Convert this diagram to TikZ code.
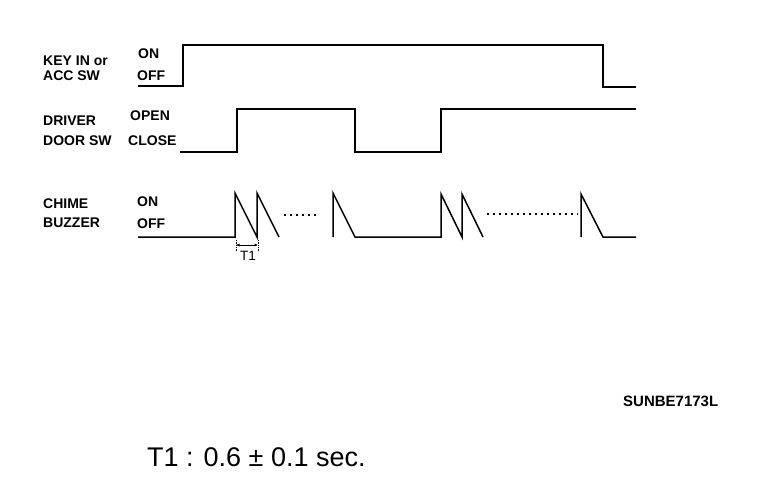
\documentclass[tikz,border=0pt]{standalone}
\usepackage{fontspec}
\setmainfont{Liberation Sans}
\usetikzlibrary{arrows.meta}
\begin{document}
\begin{tikzpicture}[x=1pt,y=-1pt,
  lbl/.style={anchor=base west,inner sep=0pt,font=\fontsize{14}{15}\selectfont\bfseries},
  wave/.style={line width=1.5pt,line join=miter},
  dots/.style={line width=1.5pt,dash pattern=on 1.5pt off 4.5pt}]
\useasboundingbox (0,0) rectangle (768,488);
% labels
\node[lbl] (k1) at (43,65) {KEY IN or};
\node[lbl] (k2) at (43,80) {ACC SW};
\node[lbl] (kon) at (138,58) {ON};
\node[lbl] (koff) at (137,80) {OFF};
\node[lbl] (d1) at (43,125) {DRIVER};
\node[lbl] (d2) at (43,145) {DOOR SW};
\node[lbl] (dop) at (130,120) {OPEN};
\node[lbl] (dcl) at (128,145) {CLOSE};
\node[lbl] (c1) at (43,208) {CHIME};
\node[lbl] (c2) at (43,227) {BUZZER};
\node[lbl] (con) at (137,206) {ON};
\node[lbl] (coff) at (137,228) {OFF};
% KEY IN waveform
\draw[wave] (138,86) -- (183,86) -- (183,45) -- (603,45) -- (603,87) -- (636,87);
% DOOR waveform
\draw[wave] (180,152) -- (237,152) -- (237,109) -- (355,109) -- (355,152) -- (441,152) -- (441,109) -- (636,109);
% CHIME waveform
\draw[wave] (138,237) -- (235,237) -- (235,193) -- (257,237) -- (257,193) -- (279,237);
\draw[dots] (284,215) -- (318,215);
\draw[wave] (333,237) -- (333,193) -- (355,237) -- (441,237) -- (441,194) -- (462,237) -- (462,194) -- (483,237);
\draw[dots] (487,214) -- (578,214);
\draw[wave] (581,237) -- (581,194) -- (603,237) -- (636,237);
% T1 marker
\coordinate (ta) at (236,245);
\coordinate (tb) at (258,245);
\draw[line width=0.7pt,densely dotted] (236,240) -- (236,251);
\draw[line width=0.7pt,densely dotted] (258,240) -- (258,251);
\draw[line width=1pt,{Latex[length=3.5pt,width=3.2pt]}-{Latex[length=3.5pt,width=3.2pt]}] (ta) -- (tb);
\node[anchor=base,inner sep=0pt,font=\fontsize{13.5}{14}\selectfont] (t1) at (248,260) {T1};
% codes
\node[anchor=base west,inner sep=0pt,font=\fontsize{15}{16}\selectfont\bfseries] (code) at (623,406) {SUNBE7173L};
\node[anchor=base west,inner sep=0pt,font=\fontsize{27}{30}\selectfont] (note) at (147,466) {T1 : 0.6 ± 0.1 sec.};
\end{tikzpicture}
\end{document}
